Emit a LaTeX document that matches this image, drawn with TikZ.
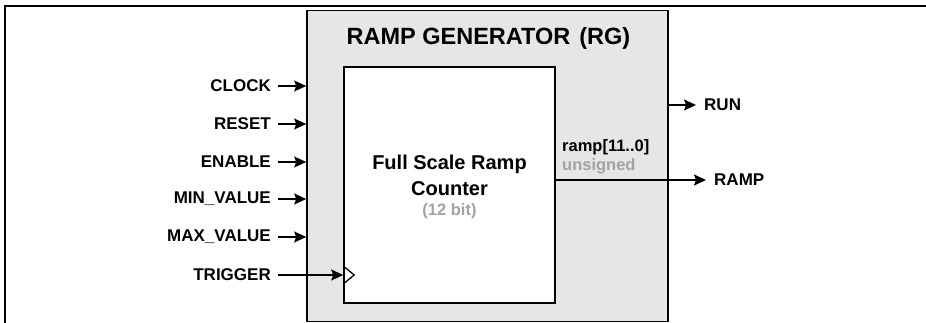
\documentclass[tikz,border=0pt]{standalone}
\usepackage{fontspec}
\setmainfont{Liberation Sans}
\usetikzlibrary{arrows.meta,positioning,calc}
\definecolor{rgfill}{HTML}{E6E6E6}
\definecolor{softtext}{HTML}{A3A3A3}
\tikzset{
  block/.style={rectangle, draw=black, line width=1.6pt, inner sep=0pt, align=center},
  pinlbl/.style={font=\fontsize{17}{20}\selectfont\bfseries, inner sep=0pt},
  buslbl/.style={font=\fontsize{16.5}{20}\selectfont\bfseries, inner sep=0pt, anchor=west},
  sig/.style={-{Stealth[length=12pt,width=11pt,inset=2pt]}, line width=1.3pt},
}

\begin{document}
\begin{tikzpicture}[x=1pt, y=-1pt]
  \useasboundingbox (0,0) rectangle (926,323);
  \draw[line width=2pt] (5,323) -- (5,6) -- (926,6);

  % ramp generator block
  \node[block, fill=rgfill, minimum width=361pt, minimum height=311pt] (rg) at (487.5,166) {};
  \node[font=\fontsize{23.5}{28}\selectfont\bfseries] (rgtitle) at (488.5,38) {RAMP GENERATOR\hspace{9pt}(RG)};
  \node[block, fill=white, minimum width=211pt, minimum height=236pt,
        font=\fontsize{20}{26}\selectfont\bfseries] (cnt) at (449.5,185) {};
  \node[font=\fontsize{20}{26}\selectfont\bfseries, align=center] (cnttext) at (449.5,187)
    {Full Scale Ramp\\Counter\\[-6pt]{\color{softtext}\fontsize{16.5}{20}\selectfont (12 bit)}};

  % inputs
  \node[pinlbl, anchor=east] (clk) at (271,86) {CLOCK};
  \node[pinlbl, anchor=east] (rst) at (271,124) {RESET};
  \node[pinlbl, anchor=east] (ena) at (271,162) {ENABLE};
  \node[pinlbl, anchor=east] (minv) at (271,199) {MIN\_VALUE};
  \node[pinlbl, anchor=east] (maxv) at (271,237) {MAX\_VALUE};
  \node[pinlbl, anchor=east] (trig) at (271,275) {TRIGGER};
  \draw[sig] ([xshift=7pt]clk.east) -- (clk.east -| rg.west);
  \draw[sig] ([xshift=7pt]rst.east) -- (rst.east -| rg.west);
  \draw[sig] ([xshift=7pt]ena.east) -- (ena.east -| rg.west);
  \draw[sig] ([xshift=7pt]minv.east) -- (minv.east -| rg.west);
  \draw[sig] ([xshift=7pt]maxv.east) -- (maxv.east -| rg.west);
  \draw[sig] ([xshift=7pt]trig.east) -- (trig.east -| cnt.west);
  \draw[line width=1.3pt] (trig.east -| cnt.west) ++(0,-9) -- ++(11,9) -- ++(-11,9);

  % outputs
  \node[pinlbl, anchor=west] (run) at (704,105) {RUN};
  \node[pinlbl, anchor=west] (ramp) at (714,180) {RAMP};
  \draw[sig] (run.west -| rg.east) -- ([xshift=-8pt]run.west);
  \draw[sig] (ramp.west -| cnt.east) -- ([xshift=-8pt]ramp.west);
  \node[buslbl] (rampbus) at (562,147) {ramp[11..0]};
  \node[buslbl, text=softtext] (rampsign) at (562,166) {unsigned};
\end{tikzpicture}
\end{document}
